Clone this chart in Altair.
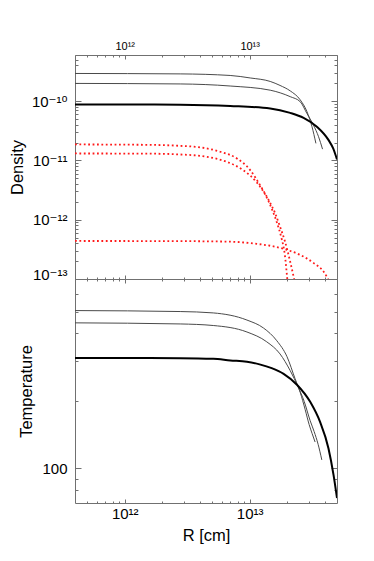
import altair as alt
import pandas as pd

# ---------------- data ----------------
# Density panel: two thin grey curves, one thick black curve, three red dotted curves
dens_thin1_R = [4.0e11, 2.78e12, 6.98e12, 1.01e13, 1.46e13, 1.75e13, 2.11e13, 2.54e13, 2.87e13, 3.15e13, 3.39e13]
dens_thin1 = [2.93e-10, 2.88e-10, 2.71e-10, 2.46e-10, 2.15e-10, 1.84e-10, 1.49e-10, 1.05e-10, 6.70e-11, 3.74e-11, 1.94e-11]

dens_thin2_R = [4.0e11, 2.78e12, 6.98e12, 1.46e13, 2.11e13, 2.54e13, 2.87e13, 3.24e13, 3.56e13, 3.83e13]
dens_thin2 = [1.99e-10, 1.95e-10, 1.80e-10, 1.53e-10, 1.19e-10, 9.77e-11, 6.21e-11, 3.94e-11, 2.51e-11, 1.55e-11]

dens_thick_R = [4.0e11, 2.78e12, 6.98e12, 1.46e13, 2.11e13, 2.70e13, 3.45e13, 4.27e13, 4.66e13, 5.0e13]
dens_thick = [8.80e-11, 8.69e-11, 8.29e-11, 7.53e-11, 6.33e-11, 5.21e-11, 3.70e-11, 2.22e-11, 1.59e-11, 1.04e-11]

red1_R = [4.0e11, 1.60e12, 2.78e12, 4.02e12, 5.81e12, 7.90e12, 1.01e13, 1.21e13, 1.42e13, 1.60e13, 1.75e13, 1.92e13, 2.11e13, 2.27e13]
red1 = [1.86e-11, 1.83e-11, 1.76e-11, 1.66e-11, 1.40e-11, 1.08e-11, 6.86e-12, 3.83e-12, 2.14e-12, 1.28e-12, 7.62e-13, 4.26e-13, 1.96e-13, 1.0e-13]

red2_R = [4.0e11, 1.60e12, 2.78e12, 4.55e12, 6.58e12, 8.93e12, 1.14e13, 1.33e13, 1.51e13, 1.66e13, 1.80e13, 1.91e13, 2.00e13]
red2 = [1.31e-11, 1.30e-11, 1.26e-11, 1.15e-11, 9.44e-12, 6.78e-12, 4.26e-12, 2.67e-12, 1.49e-12, 8.67e-13, 4.84e-13, 2.60e-13, 1.0e-13]

red3_R = [4.0e11, 2.78e12, 6.98e12, 1.14e13, 1.55e13, 1.99e13, 2.54e13, 3.24e13, 3.90e13, 4.25e13]
red3 = [4.38e-13, 4.35e-13, 4.26e-13, 3.91e-13, 3.55e-13, 3.10e-13, 2.55e-13, 1.87e-13, 1.34e-13, 1.0e-13]

# Temperature panel: two thin grey curves and one thick black curve
temp_thin1_R = [4.0e11, 2.78e12, 5.11e12, 9.51e12, 1.29e13, 1.65e13, 1.99e13, 2.31e13, 2.54e13, 2.78e13, 2.99e13, 3.16e13, 3.34e13]
temp_thin1 = [506, 501, 494, 459, 423, 371, 315, 251, 218, 183, 157, 143, 131]

temp_thin2_R = [4.0e11, 2.78e12, 5.11e12, 9.51e12, 1.37e13, 1.75e13, 2.11e13, 2.44e13, 2.73e13, 3.05e13, 3.28e13, 3.53e13, 3.78e13]
temp_thin2 = [446, 441, 434, 406, 367, 324, 273, 231, 199, 163, 146, 128, 109]

temp_thick_R = [4.0e11, 2.78e12, 5.11e12, 7.0e12, 9.51e12, 1.2e13, 1.5e13, 1.87e13, 2.39e13, 3.05e13, 3.66e13, 4.27e13, 4.69e13, 5.0e13]
temp_thick = [311, 310, 308, 303, 299, 291, 280, 264, 236, 198, 161, 123, 93.4, 73.6]

# axes
x_domain = [4e11, 5e13]
rho_domain = [1e-13, 6e-10]
temp_domain = [70, 700]

x_major = [1e12, 1e13]
x_major_labels = ["10\u00b9\u00b2", "10\u00b9\u00b3"]
x_minor = [5e11, 6e11, 7e11, 8e11, 9e11,
           2e12, 3e12, 4e12, 5e12, 6e12, 7e12, 8e12, 9e12,
           2e13, 3e13, 4e13]

rho_major = [1e-13, 1e-12, 1e-11, 1e-10]
rho_major_labels = ["10\u207b\u00b9\u00b3", "10\u207b\u00b9\u00b2", "10\u207b\u00b9\u00b9", "10\u207b\u00b9\u2070"]
rho_minor = [m * 10.0 ** e for e in (-13, -12, -11, -10) for m in range(2, 10) if m * 10.0 ** e <= 6.01e-10]

temp_major = [100]
temp_major_labels = ["100"]
temp_minor = [80, 90, 200, 300, 400, 500, 600]

# ---------------- styling ----------------
FONT = "'Liberation Sans', 'DejaVu Sans', sans-serif"
FRAME = "#707070"
THIN = "#4a4a4a"
RED = "#ff1a1a"


def frame(rs, vs, name):
    return pd.DataFrame({"R": rs, "v": vs, "s": name})


def label_expr(values, labels):
    expr = "'" + labels[-1] + "'"
    for v, lab in reversed(list(zip(values[:-1], labels[:-1]))):
        expr = "datum.value < " + repr(v * 3) + " ? '" + lab + "' : " + expr
    return expr


def axis(orient, values, size, **kw):
    base = dict(orient=orient, values=values, tickSize=size, offset=-size,
                domain=False, grid=False, tickColor=FRAME, tickWidth=1,
                labels=False, title=None)
    base.update(kw)
    return alt.Axis(**base)


def lines(df, xaxis, yaxis, ydomain, **mark):
    return alt.Chart(df).mark_line(interpolate="monotone", clip=True, **mark).encode(
        x=alt.X("R:Q", scale=alt.Scale(type="log", domain=x_domain, nice=False), axis=xaxis),
        y=alt.Y("v:Q", scale=alt.Scale(type="log", domain=ydomain, nice=False), axis=yaxis),
        detail="s:N",
    )


d_thin = pd.concat([frame(dens_thin1_R, dens_thin1, "a"), frame(dens_thin2_R, dens_thin2, "b")])
d_thick = frame(dens_thick_R, dens_thick, "c")
d_red = pd.concat([frame(red1_R, red1, "r1"), frame(red2_R, red2, "r2"), frame(red3_R, red3, "r3")])

t_thin = pd.concat([frame(temp_thin1_R, temp_thin1, "a"), frame(temp_thin2_R, temp_thin2, "b")])
t_thick = frame(temp_thick_R, temp_thick, "c")

W, H = 262, 224

# ---------------- density panel ----------------
top_x_lab = axis("top", x_major, 4, labels=True, labelExpr=label_expr(x_major, x_major_labels),
                 labelFontSize=11, labelPadding=4, labelOverlap=False, labelFlush=False)
dens_y_lab = axis("left", rho_major, 6, labels=True, labelExpr=label_expr(rho_major, rho_major_labels),
                  labelFontSize=15, labelPadding=8, labelOverlap=False,
                  labelOffset={"condition": {"test": "datum.value < 2e-13", "value": -5}, "value": 0},
                  title="Density", titleFontSize=16.5, titlePadding=6)

top = alt.layer(
    lines(d_thin, top_x_lab, dens_y_lab, rho_domain, color=THIN, strokeWidth=1),
    lines(d_thick, axis("top", x_minor, 2), axis("left", rho_minor, 3), rho_domain,
          color="black", strokeWidth=2),
    lines(d_red, axis("bottom", x_major, 4), axis("right", rho_major, 6), rho_domain,
          color=RED, strokeWidth=1.8, strokeDash=[1.8, 2.6]),
    lines(d_thin, axis("bottom", x_minor, 2), axis("right", rho_minor, 3), rho_domain, opacity=0),
).resolve_axis(x="independent", y="independent").properties(width=W, height=H)

# ---------------- temperature panel ----------------
bot_x_lab = axis("bottom", x_major, 4, labels=True, labelExpr=label_expr(x_major, x_major_labels),
                 labelFontSize=15, labelPadding=3, labelOverlap=False, labelFlush=False,
                 title="R [cm]", titleFontSize=16.5, titlePadding=6)
temp_y_lab = axis("left", temp_major, 6, labels=True, labelFontSize=15, labelPadding=8,
                  labelOverlap=False, title="Temperature", titleFontSize=16.5, titlePadding=7)

bottom = alt.layer(
    lines(t_thin, bot_x_lab, temp_y_lab, temp_domain, color=THIN, strokeWidth=1),
    lines(t_thick, axis("bottom", x_minor, 2), axis("left", temp_minor, 3), temp_domain,
          color="black", strokeWidth=2),
    lines(t_thin, axis("top", x_major, 4), axis("right", temp_major, 6), temp_domain, opacity=0),
    lines(t_thin, axis("top", x_minor, 2), axis("right", temp_minor, 3), temp_domain, opacity=0),
).resolve_axis(x="independent", y="independent").properties(width=W, height=H)

chart = (
    alt.vconcat(top, bottom, spacing=0, bounds="flush")
    .resolve_scale(x="independent", y="independent")
    .properties(padding={"left": 0, "top": 31, "right": 5, "bottom": 5})
    .configure_view(stroke=FRAME, strokeWidth=1)
    .configure_axis(labelFont=FONT, titleFont=FONT, labelColor="black",
                    titleColor="black", titleFontWeight="normal")
)

chart.save("out.html", embed_options={"renderer": "svg", "actions": False})
